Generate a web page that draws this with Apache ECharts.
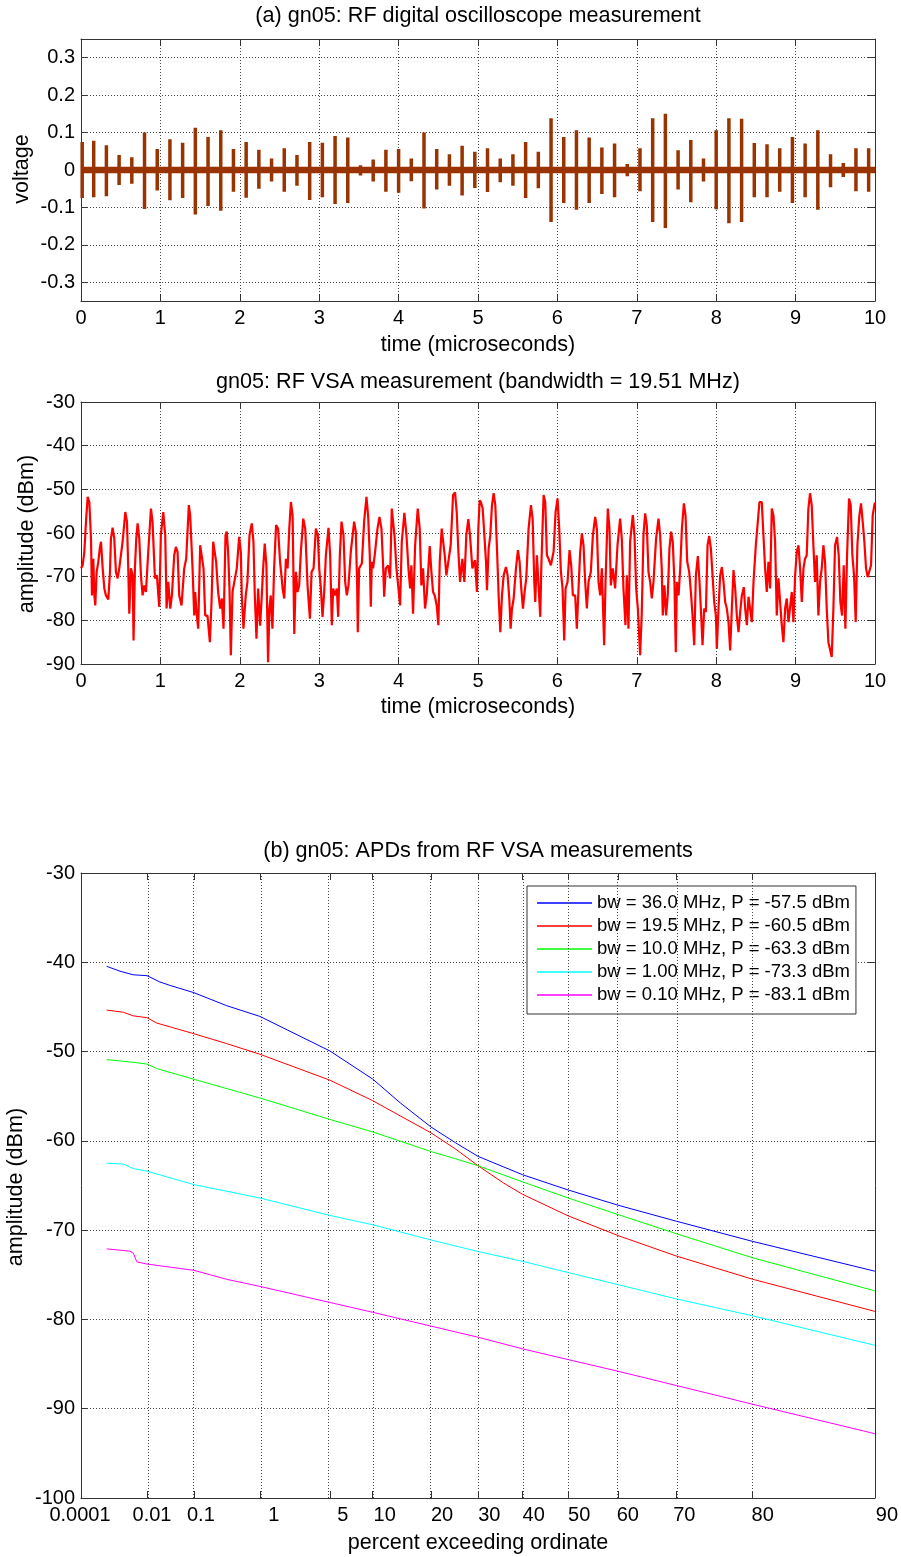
<!DOCTYPE html>
<html>
<head>
<meta charset="utf-8">
<script src="https://cdn.jsdelivr.net/npm/echarts@6.0.0/dist/echarts.min.js"></script>
<style>html,body{margin:0;padding:0;background:#fff}#c{width:901px;height:1557px}</style>
</head>
<body>
<div id="c"></div>
<script>
// ---------- Panel (a): oscilloscope pulses ----------
const oscPulseTime = [0.015,0.16,0.32,0.48,0.64,0.80,0.96,1.12,1.28,1.44,1.60,1.76,1.92,2.08,2.24,2.40,2.56,2.72,2.88,3.04,3.20,3.36,3.52,3.68,3.84,4.00,4.16,4.32,4.48,4.64,4.80,4.96,5.12,5.28,5.44,5.60,5.76,5.92,6.08,6.24,6.40,6.56,6.72,6.88,7.04,7.20,7.36,7.52,7.68,7.84,8.00,8.16,8.32,8.48,8.64,8.80,8.96,9.12,9.28,9.44,9.60,9.76,9.92];
const oscPulsePos = [0.075,0.078,0.066,0.040,0.034,0.100,0.056,0.082,0.073,0.113,0.088,0.106,0.056,0.075,0.054,0.031,0.058,0.040,0.075,0.073,0.091,0.087,0.013,0.028,0.054,0.056,0.031,0.100,0.056,0.042,0.065,0.049,0.058,0.031,0.042,0.075,0.049,0.138,0.088,0.106,0.087,0.060,0.071,0.016,0.058,0.138,0.150,0.053,0.080,0.031,0.106,0.138,0.137,0.072,0.069,0.058,0.088,0.071,0.106,0.042,0.019,0.058,0.058];
const oscPulseNeg = [-0.075,-0.073,-0.070,-0.040,-0.037,-0.104,-0.055,-0.081,-0.075,-0.119,-0.096,-0.109,-0.058,-0.074,-0.050,-0.031,-0.058,-0.042,-0.080,-0.073,-0.091,-0.088,-0.015,-0.031,-0.058,-0.061,-0.030,-0.103,-0.052,-0.042,-0.068,-0.048,-0.059,-0.033,-0.042,-0.075,-0.049,-0.139,-0.088,-0.106,-0.088,-0.064,-0.073,-0.017,-0.057,-0.139,-0.155,-0.052,-0.086,-0.031,-0.105,-0.142,-0.139,-0.073,-0.073,-0.058,-0.088,-0.073,-0.106,-0.046,-0.019,-0.057,-0.058];
const oscYTicks = [-0.3,-0.2,-0.1,0,0.1,0.2,0.3];

// ---------- Panel 2: VSA trace ----------
const vsaTime = [0.000,0.021,0.042,0.063,0.084,0.105,0.126,0.138,0.155,0.168,0.180,0.197,0.218,0.239,0.252,0.273,0.294,0.314,0.344,0.365,0.377,0.398,0.419,0.440,0.461,0.482,0.503,0.524,0.558,0.579,0.595,0.608,0.629,0.650,0.662,0.679,0.696,0.713,0.734,0.755,0.776,0.797,0.818,0.847,0.881,0.901,0.931,0.956,0.985,1.006,1.036,1.061,1.078,1.099,1.124,1.145,1.174,1.195,1.216,1.237,1.266,1.300,1.325,1.358,1.375,1.405,1.426,1.438,1.455,1.476,1.501,1.522,1.543,1.564,1.593,1.623,1.644,1.665,1.681,1.702,1.727,1.753,1.774,1.795,1.820,1.836,1.853,1.870,1.887,1.908,1.929,1.962,1.992,2.013,2.025,2.046,2.075,2.096,2.122,2.151,2.172,2.189,2.210,2.231,2.256,2.277,2.294,2.314,2.335,2.356,2.373,2.390,2.411,2.432,2.457,2.482,2.507,2.524,
2.539,2.560,2.581,2.602,2.623,2.644,2.665,2.686,2.706,2.727,2.748,2.769,2.799,2.824,2.853,2.883,2.904,2.929,2.958,2.983,3.000,3.021,3.042,3.063,3.084,3.117,3.138,3.159,3.176,3.197,3.222,3.239,3.260,3.281,3.306,3.327,3.348,3.369,3.398,3.440,3.461,3.478,3.486,3.503,3.537,3.566,3.595,3.616,3.637,3.650,3.662,3.679,3.704,3.734,3.759,3.784,3.805,3.818,3.839,3.868,3.893,3.914,3.927,3.948,3.973,3.998,4.019,4.040,4.073,4.099,4.124,4.145,4.161,4.182,4.208,4.241,4.266,4.287,4.308,4.333,4.354,4.392,4.413,4.434,4.455,4.480,4.501,4.518,4.543,4.560,4.581,4.602,4.627,4.656,4.686,4.711,4.732,4.753,4.774,4.803,4.828,4.853,4.878,4.899,4.929,4.962,4.987,5.004,5.021,
5.038,5.059,5.080,5.101,5.113,5.134,5.155,5.176,5.197,5.218,5.239,5.260,5.281,5.302,5.323,5.352,5.373,5.394,5.411,5.428,5.449,5.478,5.503,5.524,5.545,5.566,5.587,5.608,5.637,5.667,5.688,5.709,5.721,5.742,5.763,5.784,5.797,5.826,5.847,5.868,5.889,5.918,5.952,5.977,6.002,6.023,6.044,6.065,6.086,6.103,6.128,6.153,6.174,6.195,6.224,6.245,6.266,6.287,6.308,6.329,6.350,6.371,6.392,6.421,6.447,6.476,6.497,6.518,6.539,6.560,6.589,6.606,6.635,6.656,6.673,6.698,6.727,6.757,6.790,6.811,6.832,6.857,6.874,6.895,6.916,6.950,6.971,6.992,7.013,7.042,7.063,7.084,7.105,7.126,7.147,7.168,7.189,7.210,7.243,7.273,7.294,7.314,7.327,7.348,7.369,7.390,7.411,7.432,7.453,7.474,7.491,
7.505,7.526,7.547,7.568,7.593,7.614,7.635,7.660,7.681,7.702,7.723,7.744,7.769,7.790,7.811,7.828,7.849,7.870,7.891,7.912,7.933,7.954,7.975,7.996,8.008,8.029,8.050,8.071,8.092,8.113,8.134,8.155,8.176,8.197,8.218,8.239,8.260,8.281,8.302,8.323,8.348,8.365,8.386,8.407,8.428,8.449,8.470,8.499,8.524,8.545,8.574,8.595,8.616,8.637,8.658,8.679,8.700,8.721,8.742,8.763,8.784,8.805,8.826,8.847,8.868,8.889,8.910,8.931,8.952,8.973,8.994,9.015,9.036,9.057,9.078,9.099,9.119,9.140,9.161,9.182,9.203,9.224,9.245,9.266,9.287,9.308,9.329,9.350,9.371,9.392,9.413,9.434,9.455,9.476,9.497,9.522,9.543,9.564,9.585,9.606,9.627,9.648,9.673,9.694,9.715,9.736,9.757,9.778,9.803,9.824,9.845,9.866,9.887,9.908,9.929,9.950,9.971,9.992,10.000];
const vsaDbm = [-68.1,-67.4,-64.3,-57.4,-51.7,-52.9,-61.3,-74.3,-65.9,-74.3,-76.6,-68.9,-66.6,-63.2,-62.0,-68.1,-72.7,-74.3,-75.2,-68.9,-61.3,-58.8,-61.3,-68.9,-70.4,-68.1,-67.8,-62.0,-55.2,-57.4,-68.1,-78.5,-68.1,-69.7,-84.6,-68.1,-61.3,-57.8,-61.3,-69.7,-74.3,-72.0,-73.5,-64.3,-54.4,-57.4,-70.4,-69.7,-76.9,-60.5,-55.2,-60.5,-77.3,-71.2,-77.3,-74.3,-65.1,-63.2,-64.3,-74.3,-76.6,-68.1,-65.9,-53.6,-56.0,-68.1,-78.9,-73.5,-78.1,-81.9,-62.8,-62.8,-68.1,-78.9,-78.9,-85.0,-75.8,-62.0,-62.0,-66.6,-73.5,-77.3,-75.0,-81.9,-60.5,-59.7,-64.3,-72.7,-88.0,-73.5,-73.5,-68.1,-60.9,-64.3,-74.3,-81.9,-74.3,-71.2,-60.5,-57.8,-62.0,-74.3,-84.2,-72.7,-81.2,-74.3,-68.1,-62.4,-67.4,-89.6,-77.3,-74.3,-81.9,-68.1,-58.2,-59.0,-66.6,-69.7,
-72.7,-75.0,-65.9,-68.1,-59.0,-52.9,-56.0,-83.1,-68.9,-73.5,-72.0,-64.3,-56.7,-59.0,-72.0,-79.6,-68.9,-68.1,-59.0,-60.5,-68.1,-72.7,-79.2,-73.5,-65.1,-58.8,-65.1,-81.1,-72.7,-74.3,-72.7,-79.2,-65.1,-57.4,-60.5,-71.2,-74.3,-72.0,-64.3,-57.4,-59.7,-72.0,-82.7,-68.1,-67.0,-57.4,-51.7,-56.0,-65.1,-76.9,-66.6,-68.1,-64.3,-59.0,-56.3,-59.0,-67.4,-74.6,-68.1,-67.4,-70.4,-54.4,-54.1,-60.5,-68.1,-72.7,-76.6,-62.0,-55.4,-60.5,-68.1,-72.7,-67.4,-78.5,-62.8,-54.4,-59.0,-72.0,-68.1,-77.3,-74.3,-63.0,-68.9,-73.5,-74.3,-76.6,-81.1,-66.6,-59.0,-59.0,-65.1,-69.7,-69.7,-62.8,-51.3,-50.7,-55.2,-64.3,-71.2,-65.9,-71.2,-60.5,-56.8,-60.5,-68.1,-66.2,-73.5,-59.0,-52.5,
-53.0,-54.4,-60.5,-66.6,-73.1,-63.6,-60.5,-53.6,-50.9,-53.6,-63.6,-74.3,-82.7,-74.3,-69.7,-67.8,-69.7,-75.0,-81.9,-77.3,-75.0,-68.1,-63.9,-66.6,-72.7,-77.3,-73.5,-70.4,-59.0,-53.6,-56.7,-71.2,-75.8,-65.1,-64.7,-79.2,-68.1,-51.3,-52.9,-65.1,-65.9,-67.4,-64.3,-55.2,-52.1,-59.0,-68.9,-72.7,-84.6,-72.7,-71.2,-63.9,-67.4,-74.3,-74.3,-81.9,-72.7,-64.3,-60.1,-62.8,-71.2,-77.3,-71.2,-68.9,-60.5,-56.3,-59.0,-71.2,-74.3,-68.1,-85.7,-71.2,-54.4,-59.0,-72.0,-68.1,-72.7,-62.8,-56.7,-61.3,-72.7,-81.1,-69.7,-81.9,-62.0,-55.9,-60.5,-72.7,-77.3,-88.0,-78.1,-60.5,-55.5,-58.2,-68.9,-71.2,-75.0,-71.2,-61.3,-56.7,-60.5,-68.1,-78.9,-72.0,-78.9,-74.3,-63.6,-59.7,-62.0,-71.2,-87.3,
-71.2,-74.3,-68.1,-59.0,-53.2,-56.0,-66.6,-68.9,-73.5,-78.9,-85.7,-69.7,-65.3,-71.2,-78.9,-85.7,-77.3,-78.1,-62.8,-60.7,-63.6,-69.7,-75.8,-78.9,-86.5,-77.3,-69.7,-67.8,-71.2,-75.8,-77.3,-80.4,-86.9,-77.3,-68.5,-72.7,-78.9,-82.7,-78.1,-74.3,-72.4,-77.3,-81.1,-74.6,-75.0,-80.4,-71.2,-62.8,-57.4,-52.9,-52.9,-60.5,-68.1,-73.5,-66.6,-72.7,-54.4,-56.0,-62.0,-78.9,-70.4,-75.8,-81.1,-85.0,-77.3,-75.0,-80.4,-80.4,-73.5,-80.4,-69.7,-64.3,-62.8,-68.1,-75.8,-68.1,-65.9,-65.1,-54.4,-50.9,-53.6,-62.8,-71.2,-65.1,-78.9,-71.2,-68.1,-62.8,-66.6,-77.3,-85.0,-85.0,-88.4,-77.3,-62.8,-60.9,-65.1,-75.8,-78.9,-67.4,-81.9,-65.1,-52.1,-53.6,-65.1,-69.7,-80.4,-62.8,-56.0,-53.2,-57.4,-62.0,-68.1,-70.1,-70.4,-67.4,-56.0,-53.6,-53.0];

// ---------- Panel (b): APDs ----------
const apdTickPercent = [0.0001,0.01,0.1,1,5,10,20,30,40,50,60,70,80,90];
const apdTickLabels = ['0.0001','0.01','0.1','1','5','10','20','30','40','50','60','70','80','90'];
const apdNames = ['bw = 36.0 MHz, P = -57.5 dBm','bw = 19.5 MHz, P = -60.5 dBm','bw = 10.0 MHz, P = -63.3 dBm','bw = 1.00 MHz, P = -73.3 dBm','bw = 0.10 MHz, P = -83.1 dBm'];
const apdColors = ['#0000ff','#ff0000','#00ff00','#00ffff','#ff00ff'];
const apd36Pct = [0.00075,0.0019,0.0044,0.01,0.02,0.034,0.1,0.35,1,5,10,14.3,20,25,30,40,50,60,70,80,90];
const apd36Dbm = [-40.45,-41.0,-41.4,-41.5,-42.2,-42.6,-43.4,-44.85,-46.06,-49.93,-53.08,-55.74,-58.45,-60.2,-61.75,-63.8,-65.5,-67.2,-69.0,-71.26,-74.6];
const apd19Pct = [0.00075,0.0024,0.0044,0.01,0.017,0.1,0.35,1,5,10,14.3,20,25,30,35.6,40,50,60,70,80,90];
const apd19Dbm = [-45.35,-45.6,-46.0,-46.2,-46.8,-48.0,-49.1,-50.3,-53.2,-55.5,-57.2,-59.1,-60.9,-62.8,-64.7,-66.0,-68.4,-70.6,-72.9,-75.5,-79.1];
const apd10Pct = [0.00075,0.0044,0.01,0.017,0.1,1,5,10,20,25,30,40,50,60,70,80,90];
const apd10Dbm = [-50.9,-51.2,-51.4,-51.9,-53.1,-55.2,-57.6,-59.0,-61.2,-62.0,-62.8,-64.6,-66.4,-68.25,-70.4,-73.1,-76.8];
const apd1Pct = [0.00075,0.0024,0.0044,0.01,0.1,1,5,10,20,30,40,50,60,70,80,90];
const apd1Dbm = [-62.5,-62.6,-63.1,-63.4,-64.9,-66.4,-68.35,-69.4,-71.1,-72.4,-73.5,-74.75,-76.1,-77.7,-79.6,-82.9];
const apd01Pct = [0.00075,0.0036,0.0045,0.0055,0.01,0.1,0.35,1,5,10,20,30,40,50,60,70,80,90];
const apd01Dbm = [-72.1,-72.35,-72.6,-73.55,-73.8,-74.5,-75.5,-76.3,-78.1,-79.2,-80.75,-82.0,-83.3,-84.5,-85.8,-87.4,-89.5,-92.8];

// ---------- helpers / styles ----------
const FONT = '"Liberation Sans", Arial, Helvetica, sans-serif';
const AXIS_COLOR = '#333';
const GRID_STYLE = {color: '#444', type: [1, 2], width: 1};
// horizontal pixel nudge of each APD tick label (as in the source figure)
const apdLabelNudge = [-1, 5, 7, 14, 13, 12, 11, 11, 11, 11, 10, 8, 10, 12];
// probability (Rayleigh) scale used by the APD axis
const apdX = p => Math.log10(-Math.log(p / 100));
const apdMin = apdX(90), apdMax = apdX(0.0001);
const apdTickVals = apdTickPercent.map(apdX);

const pulseData = [];
oscPulseTime.forEach((t, i) => { pulseData.push([t, 0], [t, oscPulsePos[i]], [t, oscPulseNeg[i]], [t, 0]); });
const vsaData = vsaTime.map((t, i) => [t, vsaDbm[i]]);
const apdSets = [[apd36Pct, apd36Dbm], [apd19Pct, apd19Dbm], [apd10Pct, apd10Dbm], [apd1Pct, apd1Dbm], [apd01Pct, apd01Dbm]];

const labelFont = {color: '#000', fontSize: 20, fontFamily: FONT};
const apdRich = {};
apdLabelNudge.forEach((n, i) => {
  apdRich['s' + i] = Object.assign({}, labelFont, {padding: n >= 0 ? [0, 0, 0, 2 * n] : [0, -2 * n, 0, 0]});
});

function axisBase(extra) {
  return Object.assign({
    type: 'value',
    axisLine: {show: true, onZero: false, lineStyle: {color: AXIS_COLOR, width: 1}},
    axisTick: {show: true, inside: true, length: 7, lineStyle: {color: AXIS_COLOR}},
    axisLabel: Object.assign({show: true}, labelFont),
    splitLine: {show: false}
  }, extra);
}
function boxAxis(extra) {
  const a = axisBase(extra);
  a.axisLabel = {show: false};
  a.splitLine = {show: false};
  return a;
}
const nearestTick = v => { let b = 0, bd = Infinity; apdTickVals.forEach((tv, i) => { const d = Math.abs(tv - v); if (d < bd) { bd = d; b = i; } }); return b; };

const xAxis = [
  axisBase({gridIndex: 0, position: 'bottom', min: 0, max: 10, interval: 1,
    axisLabel: Object.assign({margin: 7}, labelFont),
    splitLine: {show: true, lineStyle: GRID_STYLE}}),
  boxAxis({gridIndex: 0, position: 'top', min: 0, max: 10, interval: 1}),
  axisBase({gridIndex: 1, position: 'bottom', min: 0, max: 10, interval: 1,
    axisLabel: Object.assign({margin: 7}, labelFont),
    splitLine: {show: true, lineStyle: GRID_STYLE}}),
  boxAxis({gridIndex: 1, position: 'top', min: 0, max: 10, interval: 1}),
  axisBase({gridIndex: 2, position: 'bottom', min: apdMin, max: apdMax, inverse: true,
    axisTick: {show: true, inside: true, length: 7, lineStyle: {color: AXIS_COLOR}, customValues: apdTickVals},
    axisLabel: Object.assign({margin: 7, customValues: apdTickVals, rich: apdRich,
      formatter: v => { const i = nearestTick(v); return '{s' + i + '|' + apdTickLabels[i] + '}'; }}, labelFont)}),
  boxAxis({gridIndex: 2, position: 'top', min: apdMin, max: apdMax, inverse: true,
    axisTick: {show: true, inside: true, length: 7, lineStyle: {color: AXIS_COLOR}, customValues: apdTickVals}})
];
const yAxis = [
  axisBase({gridIndex: 0, position: 'left', min: -0.35, max: 0.35,
    axisTick: {show: true, inside: true, length: 7, lineStyle: {color: AXIS_COLOR}, customValues: oscYTicks},
    axisLabel: Object.assign({margin: 6, customValues: oscYTicks, formatter: v => String(Math.round(v * 10) / 10)}, labelFont)}),
  boxAxis({gridIndex: 0, position: 'right', min: -0.35, max: 0.35,
    axisTick: {show: true, inside: true, length: 7, lineStyle: {color: AXIS_COLOR}, customValues: oscYTicks}}),
  axisBase({gridIndex: 1, position: 'left', min: -90, max: -30, interval: 10,
    axisLabel: Object.assign({margin: 6}, labelFont),
    splitLine: {show: true, lineStyle: GRID_STYLE}}),
  boxAxis({gridIndex: 1, position: 'right', min: -90, max: -30, interval: 10}),
  axisBase({gridIndex: 2, position: 'left', min: -100, max: -30, interval: 10,
    axisLabel: Object.assign({margin: 6}, labelFont),
    splitLine: {show: true, lineStyle: GRID_STYLE}}),
  boxAxis({gridIndex: 2, position: 'right', min: -100, max: -30, interval: 10})
];

const gridMark = (key, vals) => ({
  silent: true, symbol: ['none', 'none'], label: {show: false}, animation: false,
  lineStyle: GRID_STYLE, emphasis: {disabled: true},
  data: vals.map(v => ({[key]: v}))
});

const series = [
  {type: 'line', xAxisIndex: 0, yAxisIndex: 0, data: [], markLine: gridMark('yAxis', oscYTicks)},
  {type: 'line', name: 'osc-baseline', xAxisIndex: 0, yAxisIndex: 0, data: [[0, 0], [10, 0]], symbol: 'none',
    lineStyle: {color: '#993300', width: 6.5}, z: 10, silent: true},
  {type: 'line', name: 'osc', xAxisIndex: 0, yAxisIndex: 0, data: pulseData, symbol: 'none',
    lineStyle: {color: '#993300', width: 3.5}, z: 11, silent: true},
  {type: 'line', name: 'vsa', xAxisIndex: 2, yAxisIndex: 2, data: vsaData, symbol: 'none',
    lineStyle: {color: '#ff0000', width: 2.2}, z: 10, silent: true},
  {type: 'line', xAxisIndex: 4, yAxisIndex: 4, data: [], markLine: gridMark('xAxis', apdTickVals.slice(1, -1))}
];
apdSets.forEach((s, k) => {
  series.push({
    type: 'line', name: apdNames[k], xAxisIndex: 4, yAxisIndex: 4, symbol: 'none', smooth: false,
    data: s[0].map((p, i) => [apdX(p), s[1][i]]),
    lineStyle: {color: apdColors[k], width: 1}, itemStyle: {color: apdColors[k]}, z: 10, silent: true
  });
});

const txt = (x, y, text, size, rot) => ({
  type: 'text', x: x, y: y, rotation: rot || 0, silent: true,
  style: {text: text, fill: '#000', fontSize: size, fontFamily: FONT, align: 'center', verticalAlign: 'middle'}
});

const chart = echarts.init(document.getElementById('c'), null, {renderer: 'canvas'});
chart.setOption({
  animation: false,
  backgroundColor: '#fff',
  grid: [
    {left: 81, right: 26, top: 39, height: 262},
    {left: 81, right: 26, top: 402, height: 262},
    {left: 81, right: 26, top: 873, height: 625}
  ],
  xAxis: xAxis,
  yAxis: yAxis,
  legend: {
    data: apdNames, orient: 'vertical', left: 527, top: 886,
    icon: 'rect', itemWidth: 55, itemHeight: 1.5, itemGap: 3,
    padding: [7, 6, 9, 10], backgroundColor: '#fff', borderColor: '#333', borderWidth: 1, borderRadius: 0,
    selectedMode: false,
    textStyle: {color: '#000', fontSize: 18.5, fontFamily: FONT, lineHeight: 20}
  },
  series: series,
  graphic: [
    txt(478, 16, '(a) gn05: RF digital oscilloscope measurement', 21.6),
    txt(478, 345, 'time (microseconds)', 21.6),
    txt(22, 169, 'voltage', 21.6, Math.PI / 2),
    txt(478, 382, 'gn05: RF VSA measurement (bandwidth = 19.51 MHz)', 21.6),
    txt(478, 707, 'time (microseconds)', 21.6),
    txt(27, 534, 'amplitude (dBm)', 21.6, Math.PI / 2),
    txt(478, 851, '(b) gn05: APDs from RF VSA measurements', 21.6),
    txt(478, 1543, 'percent exceeding ordinate', 21.6),
    txt(16, 1187, 'amplitude (dBm)', 21.6, Math.PI / 2)
  ]
});
</script>
</body>
</html>
